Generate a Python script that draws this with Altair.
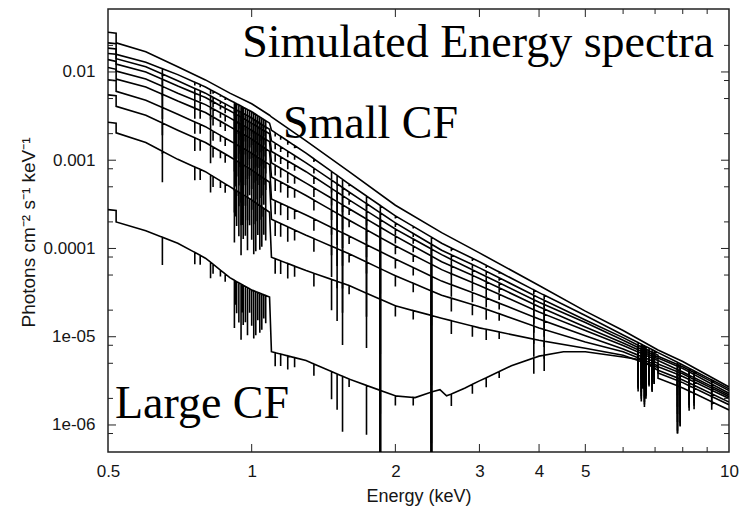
import numpy as np
import pandas as pd
import altair as alt

# ---------------- data ----------------
# continuum grid (keV); repeated energies are the absorption edges
E_GRID = [0.5, 0.52, 0.52, 0.6, 0.7, 0.8, 0.9, 1.0, 1.09, 1.1, 1.3, 1.6,
          2.0, 2.5, 3.0, 4.0, 5.0, 6.0, 7.1, 7.1, 8.0, 10.0]

# log10 photon flux of each simulated spectrum (small CF -> large CF)
LOGF_C1 = [-1.55, -1.56, -1.67, -1.77, -1.94, -2.09, -2.24, -2.36, -2.49, -2.51, -2.78, -3.13,
           -3.51, -3.82, -4.05, -4.42, -4.71, -4.93, -5.15, -5.15, -5.28, -5.57]
LOGF_C2 = [-1.67, -1.68, -1.80, -1.89, -2.03, -2.17, -2.32, -2.45, -2.58, -2.66, -2.92, -3.27,
           -3.63, -3.94, -4.15, -4.50, -4.76, -4.98, -5.18, -5.18, -5.32, -5.59]
LOGF_C3 = [-1.73, -1.74, -1.85, -1.94, -2.10, -2.24, -2.39, -2.52, -2.65, -2.78, -3.03, -3.36,
           -3.71, -4.02, -4.22, -4.56, -4.81, -5.01, -5.21, -5.22, -5.34, -5.61]
LOGF_C4 = [-1.79, -1.80, -1.91, -2.00, -2.16, -2.29, -2.44, -2.58, -2.70, -2.90, -3.13, -3.45,
           -3.78, -4.07, -4.28, -4.61, -4.84, -5.04, -5.23, -5.24, -5.36, -5.64]
LOGF_C5 = [-1.86, -1.88, -1.99, -2.08, -2.24, -2.37, -2.52, -2.66, -2.79, -3.03, -3.26, -3.55,
           -3.86, -4.15, -4.34, -4.66, -4.89, -5.07, -5.25, -5.27, -5.40, -5.66]
LOGF_C6 = [-1.95, -1.97, -2.08, -2.17, -2.33, -2.46, -2.62, -2.76, -2.90, -3.19, -3.40, -3.68,
           -3.97, -4.24, -4.42, -4.72, -4.93, -5.10, -5.27, -5.31, -5.42, -5.68]
LOGF_C7 = [-2.09, -2.10, -2.22, -2.32, -2.48, -2.62, -2.78, -2.92, -3.05, -3.44, -3.62, -3.86,
           -4.12, -4.37, -4.53, -4.80, -4.99, -5.14, -5.30, -5.34, -5.45, -5.70]
LOGF_C8 = [-2.26, -2.27, -2.39, -2.49, -2.66, -2.80, -2.96, -3.11, -3.25, -3.67, -3.85, -4.06,
           -4.31, -4.53, -4.66, -4.90, -5.06, -5.17, -5.33, -5.38, -5.49, -5.74]
LOGF_C9 = [-2.57, -2.58, -2.69, -2.80, -2.99, -3.13, -3.30, -3.45, -3.59, -4.10, -4.25, -4.42,
           -4.65, -4.79, -4.90, -5.04, -5.13, -5.21, -5.35, -5.41, -5.52, -5.77]

# the most absorbed spectrum has its own, finer grid
E_C10 = [0.5, 0.52, 0.52, 0.6, 0.7, 0.8, 0.9, 0.94, 1.0, 1.09, 1.1, 1.3, 1.6, 2.0, 2.2, 2.4,
         2.48, 2.56, 2.62, 2.8, 3.0, 3.5, 4.0, 4.5, 5.0, 6.0, 6.5, 7.1, 7.1, 8.0, 10.0]
LOGF_C10 = [-3.56, -3.57, -3.70, -3.80, -3.94, -4.11, -4.33, -4.39, -4.47, -4.55, -5.17, -5.27,
            -5.48, -5.67, -5.69, -5.62, -5.60, -5.67, -5.65, -5.58, -5.50, -5.33, -5.22, -5.17,
            -5.17, -5.23, -5.26, -5.38, -5.47, -5.58, -5.83]

# absorption lines: energy (keV) and depth (dex) in a strongly absorbed spectrum
LINE_E = [0.65, 0.76, 0.78, 0.82, 0.83, 0.86, 0.88,
          0.92, 0.925, 0.93, 0.94, 0.95, 0.955, 0.96, 0.97, 0.98, 0.99, 1.0, 1.01, 1.02,
          1.03, 1.04, 1.05, 1.06, 1.07,
          1.12, 1.15, 1.19, 1.23,
          1.35, 1.47, 1.51, 1.55, 1.6,
          1.74, 1.86, 2.0, 2.18, 2.38,
          2.62, 2.9, 3.1, 3.3, 3.9, 4.1,
          6.45, 6.55, 6.6, 6.65, 6.7, 6.8, 6.9, 6.97,
          7.8, 7.9, 8.25, 8.45, 9.2]
LINE_DEPTH = [0.35, 0.15, 0.12, 0.2, 0.12, 0.08, 0.1,
              0.6, 0.3, 0.4, 0.5, 0.7, 0.35, 0.5, 0.45, 0.6, 0.3, 0.45, 0.6, 0.55,
              0.35, 0.5, 0.45, 0.3, 0.35,
              0.17, 0.15, 0.17, 0.12,
              0.15, 0.35, 0.45, 0.7, 0.1,
              0.62, 4.0, 0.12, 0.1, 4.0,
              0.15, 0.12, 0.12, 0.08, 0.2, 0.2,
              0.35, 0.45, 0.3, 0.5, 0.4, 0.25, 0.3, 0.2,
              0.6, 0.5, 0.25, 0.2, 0.1]
# how strongly the lines show in each spectrum (top one is unabsorbed)
CURVE_WEIGHT = [0.0, 0.25, 0.4, 0.55, 0.7, 0.8, 0.9, 1.0, 1.0, 0.9]

X_LABELS = [0.5, 1, 2, 3, 4, 5, 10]
X_MAJOR = [1, 2, 3, 4, 5]
X_MINOR = [6, 7, 8, 9]
Y_LABELS = [1e-6, 1e-5, 1e-4, 1e-3, 1e-2]
Y_MINOR = [8e-7, 2e-6, 5e-6, 8e-6, 2e-5, 5e-5, 8e-5, 2e-4, 5e-4, 8e-4,
           2e-3, 5e-3, 8e-3, 2e-2]

ANNOT_TEXT = ["Simulated Energy spectra", "Small CF", "Large CF"]
ANNOT_E = [0.955, 1.163, 0.517]
ANNOT_F = [1.48e-2, 1.79e-3, 1.21e-6]

# ---------------- build the table ----------------
curves_in = [(E_GRID, LOGF_C1), (E_GRID, LOGF_C2), (E_GRID, LOGF_C3), (E_GRID, LOGF_C4),
             (E_GRID, LOGF_C5), (E_GRID, LOGF_C6), (E_GRID, LOGF_C7), (E_GRID, LOGF_C8),
             (E_GRID, LOGF_C9), (E_C10, LOGF_C10)]
rows = []
for k, ((es, lf), w) in enumerate(zip(curves_in, CURVE_WEIGHT)):
    items = [(e, i, f) for i, (e, f) in enumerate(zip(es, lf))]
    if w > 0:
        loge = np.log10(es)
        n = len(items)
        for j, (le, d) in enumerate(zip(LINE_E, LINE_DEPTH)):
            c = float(np.interp(np.log10(le), loge, lf))
            b = n + 3 * j
            items += [(le, b, c), (le, b + 1, c - d * w), (le, b + 2, c)]
    items.sort(key=lambda t: (t[0], t[1]))
    for o, (e, _, f) in enumerate(items):
        rows.append({"curve": f"c{k + 1}", "E": e, "F": 10 ** f, "o": o})
df = pd.DataFrame(rows)

W, H = 621, 443
SANS = "Liberation Sans"
SERIF = "Liberation Serif"
INK = "#151515"
x_scale = alt.Scale(type="log", domain=[0.5, 10], nice=False)
y_scale = alt.Scale(type="log", domain=[4.94e-7, 5.17e-2], nice=False)

y_label_expr = ("datum.value < 2e-6 ? '1e-06' : datum.value < 2e-5 ? '1e-05' : "
                "datum.value < 2e-4 ? '0.0001' : datum.value < 2e-3 ? '0.001' : '0.01'")

x_axis = alt.Axis(values=X_LABELS, format="~g", title="Energy (keV)",
                  ticks=False, domain=False, grid=False,
                  labelFont=SANS, labelFontSize=17, labelColor=INK,
                  labelPadding=11, labelFlush=False, labelOverlap=False,
                  titleFont=SANS, titleFontSize=18, titleFontWeight="normal",
                  titleColor=INK, titleY=35)
y_axis = alt.Axis(values=Y_LABELS, labelExpr=y_label_expr,
                  title="Photons cm⁻² s⁻¹ keV⁻¹",
                  ticks=False, domain=False, grid=False,
                  labelFont=SANS, labelFontSize=17, labelColor=INK,
                  labelPadding=13, labelFlush=False, labelOverlap=False,
                  titleFont=SANS, titleFontSize=19, titleFontWeight="normal",
                  titleColor=INK, titleX=-70, titleY=223)

XE = alt.X("E:Q", scale=x_scale, axis=x_axis)
YF = alt.Y("F:Q", scale=y_scale, axis=y_axis)

curves = alt.Chart(df).mark_line(color="black", strokeWidth=1.6, clip=True).encode(
    x=XE, y=YF, detail="curve:N", order="o:Q",
)


def x_ticks(vals, length):
    c = alt.Chart(pd.DataFrame({"E": vals})).mark_rule(color="#222", strokeWidth=1)
    return [c.encode(x=XE, y=alt.value(H), y2=alt.value(H - length)),
            c.encode(x=XE, y=alt.value(0), y2=alt.value(length))]


def y_ticks(vals, length):
    c = alt.Chart(pd.DataFrame({"F": vals})).mark_rule(color="#222", strokeWidth=1)
    return [c.encode(y=YF, x=alt.value(0), x2=alt.value(length)),
            c.encode(y=YF, x=alt.value(W), x2=alt.value(W - length))]


ticks = x_ticks(X_MAJOR, 8) + x_ticks(X_MINOR, 5) + y_ticks(Y_LABELS, 8) + y_ticks(Y_MINOR, 5)

annot = alt.Chart(pd.DataFrame({"t": ANNOT_TEXT, "E": ANNOT_E, "F": ANNOT_F})).mark_text(
    align="left", baseline="alphabetic", font=SERIF, fontSize=46, color="black"
).encode(x=XE, y=YF, text="t:N")

chart = alt.layer(curves, *ticks, annot).properties(
    width=W, height=H,
    padding={"left": 108, "top": 9, "right": 14, "bottom": 60},
    autosize=alt.AutoSizeParams(type="none"),
    background="white",
).configure_view(stroke="#222", strokeWidth=1.5)

chart.save("out.html", embed_options={"renderer": "svg", "actions": False})
